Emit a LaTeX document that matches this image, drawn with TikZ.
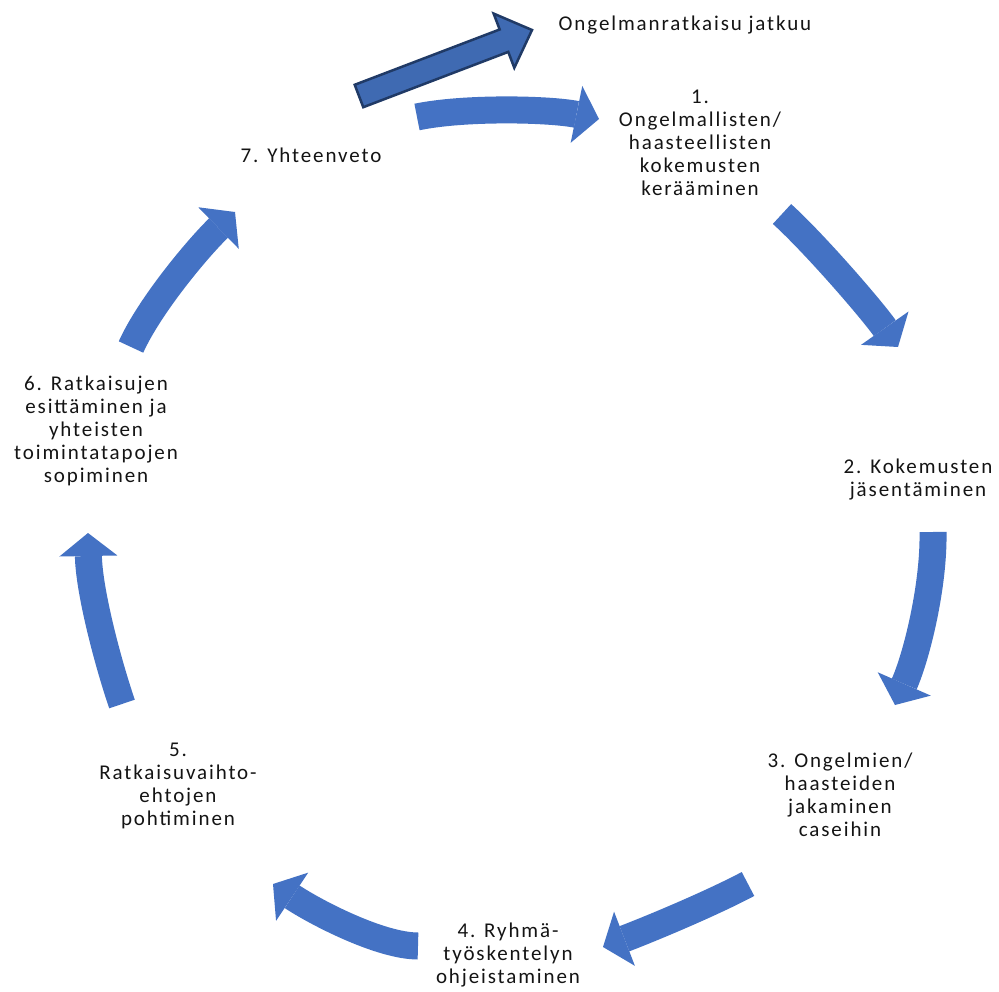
\documentclass[tikz,border=0pt]{standalone}
\usepackage{fontspec}
\setmainfont{Carlito}[LetterSpace=9]
\usetikzlibrary{arrows.meta,calc}
\definecolor{abl}{RGB}{68,114,196}
\definecolor{bfill}{RGB}{63,106,178}
\definecolor{bdraw}{RGB}{32,58,102}
\definecolor{txt}{RGB}{20,20,20}
\begin{document}
\begin{tikzpicture}[x=1pt,y=-1pt,
  lbl/.style={align=center, font=\fontsize{21}{23}\selectfont, text=txt, inner sep=0pt},
  barrow/.style={draw=abl, line width=27pt, -{Triangle[width=58pt,length=23pt,line width=0pt]}}]
\useasboundingbox (0,0) rectangle (999,992);
\fill[white] (0,0) rectangle (999,992);

% text nodes
\node[lbl] (n0) at (685,25) {Ongelmanratkaisu jatkuu};
\node[lbl] (n1) at (700,143) {1.\\Ongelmallisten/\\haasteellisten\\kokemusten\\kerääminen};
\node[lbl] (n2) at (918,480) {2. Kokemusten\\jäsentäminen};
\node[lbl] (n3) at (840,795) {3. Ongelmien/\\haasteiden\\jakaminen\\caseihin};
\node[lbl] (n4) at (508,955) {4. Ryhmä-\\työskentelyn\\ohjeistaminen};
\node[lbl] (n5) at (178,786) {5.\\Ratkaisuvaihto-\\ehtojen\\pohtiminen};
\node[lbl] (n6) at (96,431) {6. Ratkaisujen\\esittäminen ja\\yhteisten\\toimintatapojen\\sopiminen};
\node[lbl] (n7) at (311,155) {7. Yhteenveto};

% arrow end points
\coordinate (aS) at (417,117); \coordinate (aE) at (599,119);
\coordinate (cS) at (782,214); \coordinate (cE) at (898,347);
\coordinate (dS) at (933,532); \coordinate (dE) at (895,705);
\coordinate (eS) at (748,884); \coordinate (eE) at (603,947);
\coordinate (fS) at (418,946); \coordinate (fE) at (273,884);
\coordinate (gS) at (122,704); \coordinate (gE) at (88,533);
\coordinate (hS) at (131,347); \coordinate (hE) at (235,212);

% curved block arrows of the cycle
\draw[barrow] (aS) .. controls (465,107) and (550,109) .. (aE);
\draw[barrow] (cS) .. controls (815,244) and (872,310) .. (cE);
\draw[barrow] (dS) .. controls (934,585) and (917,655) .. (dE);
\draw[barrow] (eS) .. controls (712,903) and (655,927) .. (eE);
\draw[barrow] (fS) .. controls (380,946) and (315,912) .. (fE);
\draw[barrow] (gS) .. controls (107,660) and (89,590) .. (gE);
\draw[barrow] (hS) .. controls (149,307) and (196,250) .. (hE);

% straight arrow to "Ongelmanratkaisu jatkuu"
\coordinate (bt) at (359,96);
\coordinate (bp) at (532,30);
\coordinate (bh) at ($(bp)!30pt!(bt)$);
\filldraw[fill=bfill, draw=bdraw, line width=2.5pt, line join=miter]
  ($(bt)!12pt!90:(bp)$) -- ($(bh)!12pt!90:(bp)$) -- ($(bh)!29pt!90:(bp)$)
  -- (bp) -- ($(bh)!29pt!-90:(bp)$) -- ($(bh)!12pt!-90:(bp)$)
  -- ($(bt)!12pt!-90:(bp)$) -- cycle;
\end{tikzpicture}
\end{document}
